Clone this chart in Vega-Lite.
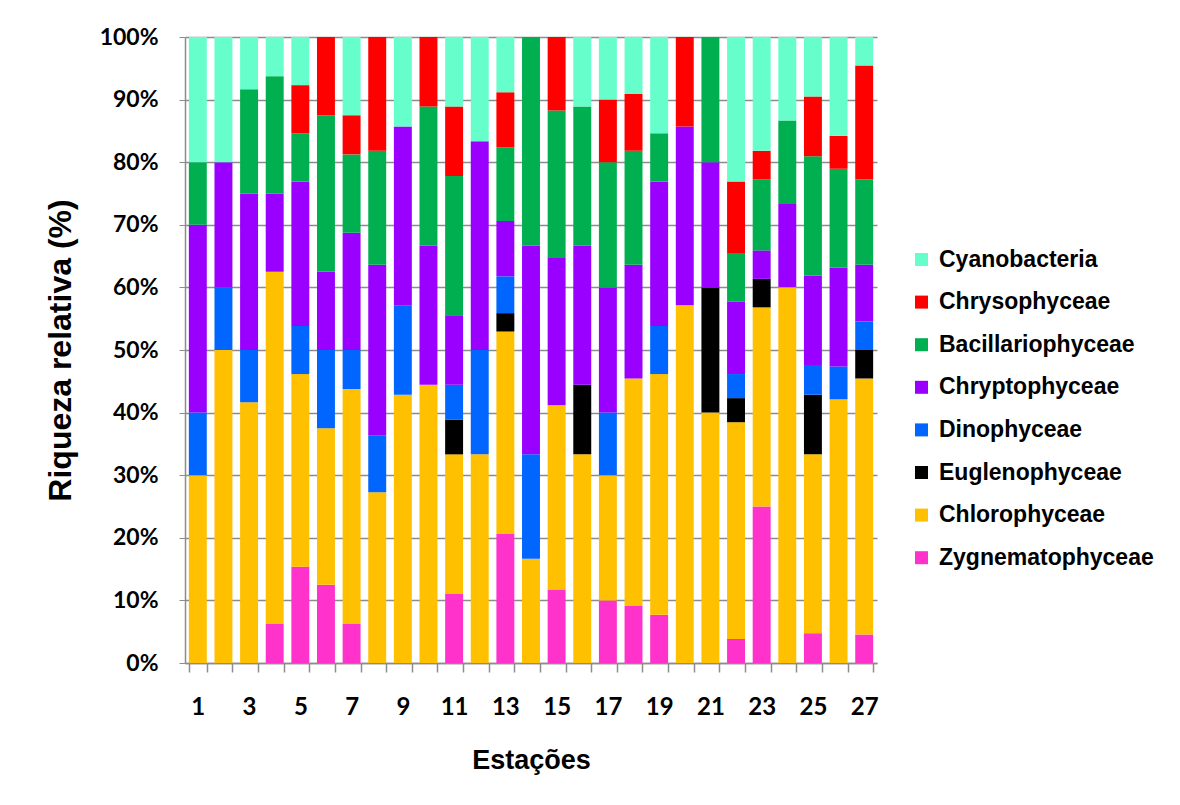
{
  "$schema": "https://vega.github.io/schema/vega-lite/v6.json",
  "width": 692,
  "height": 626,
  "autosize": {"type": "none"},
  "padding": {"left": 185, "top": 37, "right": 303, "bottom": 142},
  "background": "white",
  "config": {"view": {"stroke": null}, "font": "Liberation Sans"},
  "data": {"values": [
    {"e": 1, "Zygnematophyceae": 0, "Chlorophyceae": 30, "Euglenophyceae": 0, "Dinophyceae": 10, "Chryptophyceae": 30, "Bacillariophyceae": 10, "Chrysophyceae": 0, "Cyanobacteria": 20},
    {"e": 2, "Zygnematophyceae": 0, "Chlorophyceae": 50, "Euglenophyceae": 0, "Dinophyceae": 10, "Chryptophyceae": 20, "Bacillariophyceae": 0, "Chrysophyceae": 0, "Cyanobacteria": 20},
    {"e": 3, "Zygnematophyceae": 0, "Chlorophyceae": 41.67, "Euglenophyceae": 0, "Dinophyceae": 8.33, "Chryptophyceae": 25, "Bacillariophyceae": 16.67, "Chrysophyceae": 0, "Cyanobacteria": 8.33},
    {"e": 4, "Zygnematophyceae": 6.25, "Chlorophyceae": 56.25, "Euglenophyceae": 0, "Dinophyceae": 0, "Chryptophyceae": 12.5, "Bacillariophyceae": 18.75, "Chrysophyceae": 0, "Cyanobacteria": 6.25},
    {"e": 5, "Zygnematophyceae": 15.38, "Chlorophyceae": 30.77, "Euglenophyceae": 0, "Dinophyceae": 7.69, "Chryptophyceae": 23.08, "Bacillariophyceae": 7.69, "Chrysophyceae": 7.69, "Cyanobacteria": 7.69},
    {"e": 6, "Zygnematophyceae": 12.5, "Chlorophyceae": 25, "Euglenophyceae": 0, "Dinophyceae": 12.5, "Chryptophyceae": 12.5, "Bacillariophyceae": 25, "Chrysophyceae": 12.5, "Cyanobacteria": 0},
    {"e": 7, "Zygnematophyceae": 6.25, "Chlorophyceae": 37.5, "Euglenophyceae": 0, "Dinophyceae": 6.25, "Chryptophyceae": 18.75, "Bacillariophyceae": 12.5, "Chrysophyceae": 6.25, "Cyanobacteria": 12.5},
    {"e": 8, "Zygnematophyceae": 0, "Chlorophyceae": 27.27, "Euglenophyceae": 0, "Dinophyceae": 9.09, "Chryptophyceae": 27.27, "Bacillariophyceae": 18.18, "Chrysophyceae": 18.18, "Cyanobacteria": 0},
    {"e": 9, "Zygnematophyceae": 0, "Chlorophyceae": 42.86, "Euglenophyceae": 0, "Dinophyceae": 14.29, "Chryptophyceae": 28.57, "Bacillariophyceae": 0, "Chrysophyceae": 0, "Cyanobacteria": 14.29},
    {"e": 10, "Zygnematophyceae": 0, "Chlorophyceae": 44.44, "Euglenophyceae": 0, "Dinophyceae": 0, "Chryptophyceae": 22.22, "Bacillariophyceae": 22.22, "Chrysophyceae": 11.11, "Cyanobacteria": 0},
    {"e": 11, "Zygnematophyceae": 11.11, "Chlorophyceae": 22.22, "Euglenophyceae": 5.56, "Dinophyceae": 5.56, "Chryptophyceae": 11.11, "Bacillariophyceae": 22.22, "Chrysophyceae": 11.11, "Cyanobacteria": 11.11},
    {"e": 12, "Zygnematophyceae": 0, "Chlorophyceae": 33.33, "Euglenophyceae": 0, "Dinophyceae": 16.67, "Chryptophyceae": 33.33, "Bacillariophyceae": 0, "Chrysophyceae": 0, "Cyanobacteria": 16.67},
    {"e": 13, "Zygnematophyceae": 20.59, "Chlorophyceae": 32.35, "Euglenophyceae": 2.94, "Dinophyceae": 5.88, "Chryptophyceae": 8.82, "Bacillariophyceae": 11.76, "Chrysophyceae": 8.82, "Cyanobacteria": 8.82},
    {"e": 14, "Zygnematophyceae": 0, "Chlorophyceae": 16.67, "Euglenophyceae": 0, "Dinophyceae": 16.67, "Chryptophyceae": 33.33, "Bacillariophyceae": 33.33, "Chrysophyceae": 0, "Cyanobacteria": 0},
    {"e": 15, "Zygnematophyceae": 11.76, "Chlorophyceae": 29.41, "Euglenophyceae": 0, "Dinophyceae": 0, "Chryptophyceae": 23.53, "Bacillariophyceae": 23.53, "Chrysophyceae": 11.76, "Cyanobacteria": 0},
    {"e": 16, "Zygnematophyceae": 0, "Chlorophyceae": 33.33, "Euglenophyceae": 11.11, "Dinophyceae": 0, "Chryptophyceae": 22.22, "Bacillariophyceae": 22.22, "Chrysophyceae": 0, "Cyanobacteria": 11.11},
    {"e": 17, "Zygnematophyceae": 10, "Chlorophyceae": 20, "Euglenophyceae": 0, "Dinophyceae": 10, "Chryptophyceae": 20, "Bacillariophyceae": 20, "Chrysophyceae": 10, "Cyanobacteria": 10},
    {"e": 18, "Zygnematophyceae": 9.09, "Chlorophyceae": 36.36, "Euglenophyceae": 0, "Dinophyceae": 0, "Chryptophyceae": 18.18, "Bacillariophyceae": 18.18, "Chrysophyceae": 9.09, "Cyanobacteria": 9.09},
    {"e": 19, "Zygnematophyceae": 7.69, "Chlorophyceae": 38.46, "Euglenophyceae": 0, "Dinophyceae": 7.69, "Chryptophyceae": 23.08, "Bacillariophyceae": 7.69, "Chrysophyceae": 0, "Cyanobacteria": 15.38},
    {"e": 20, "Zygnematophyceae": 0, "Chlorophyceae": 57.14, "Euglenophyceae": 0, "Dinophyceae": 0, "Chryptophyceae": 28.57, "Bacillariophyceae": 0, "Chrysophyceae": 14.29, "Cyanobacteria": 0},
    {"e": 21, "Zygnematophyceae": 0, "Chlorophyceae": 40, "Euglenophyceae": 20, "Dinophyceae": 0, "Chryptophyceae": 20, "Bacillariophyceae": 20, "Chrysophyceae": 0, "Cyanobacteria": 0},
    {"e": 22, "Zygnematophyceae": 3.85, "Chlorophyceae": 34.62, "Euglenophyceae": 3.85, "Dinophyceae": 3.85, "Chryptophyceae": 11.54, "Bacillariophyceae": 7.69, "Chrysophyceae": 11.54, "Cyanobacteria": 23.08},
    {"e": 23, "Zygnematophyceae": 25, "Chlorophyceae": 31.82, "Euglenophyceae": 4.55, "Dinophyceae": 0, "Chryptophyceae": 4.55, "Bacillariophyceae": 11.36, "Chrysophyceae": 4.55, "Cyanobacteria": 18.18},
    {"e": 24, "Zygnematophyceae": 0, "Chlorophyceae": 60, "Euglenophyceae": 0, "Dinophyceae": 0, "Chryptophyceae": 13.33, "Bacillariophyceae": 13.33, "Chrysophyceae": 0, "Cyanobacteria": 13.33},
    {"e": 25, "Zygnematophyceae": 4.76, "Chlorophyceae": 28.57, "Euglenophyceae": 9.52, "Dinophyceae": 4.76, "Chryptophyceae": 14.29, "Bacillariophyceae": 19.05, "Chrysophyceae": 9.52, "Cyanobacteria": 9.52},
    {"e": 26, "Zygnematophyceae": 0, "Chlorophyceae": 42.11, "Euglenophyceae": 0, "Dinophyceae": 5.26, "Chryptophyceae": 15.79, "Bacillariophyceae": 15.79, "Chrysophyceae": 5.26, "Cyanobacteria": 15.79},
    {"e": 27, "Zygnematophyceae": 4.55, "Chlorophyceae": 40.91, "Euglenophyceae": 4.55, "Dinophyceae": 4.55, "Chryptophyceae": 9.09, "Bacillariophyceae": 13.64, "Chrysophyceae": 18.18, "Cyanobacteria": 4.55}
  ]},
  "transform": [
    {"fold": ["Zygnematophyceae", "Chlorophyceae", "Euglenophyceae", "Dinophyceae", "Chryptophyceae", "Bacillariophyceae", "Chrysophyceae", "Cyanobacteria"], "as": ["Classe", "v"]},
    {"calculate": "indexof(['Zygnematophyceae', 'Chlorophyceae', 'Euglenophyceae', 'Dinophyceae', 'Chryptophyceae', 'Bacillariophyceae', 'Chrysophyceae', 'Cyanobacteria'], datum.Classe)", "as": "ord"}
  ],
  "mark": {"type": "bar"},
  "encoding": {
    "x": {
      "field": "e", "type": "ordinal",
      "scale": {"paddingInner": 0.3, "paddingOuter": 0.15},
      "axis": {
        "title": "Estações",
        "labelExpr": "datum.value % 2 == 1 ? datum.label : ''",
        "labelAngle": 0,
        "tickBand": "extent",
        "tickSize": 9,
        "tickColor": "#8c8c8c",
        "tickWidth": 1.5,
        "domainColor": "#8c8c8c",
        "domainWidth": 1.5,
        "labelFont": "Lato",
        "labelFontSize": 24,
        "labelFontWeight": "bold",
        "labelColor": "black",
        "labelPadding": 23,
        "titleFont": "Liberation Sans",
        "titleFontSize": 27,
        "titleFontWeight": "bold",
        "titleColor": "black",
        "titlePadding": 28,
        "grid": false
      }
    },
    "y": {
      "field": "v", "type": "quantitative", "stack": "normalize",
      "scale": {"domain": [0, 1]},
      "axis": {
        "title": "Riqueza relativa (%)",
        "format": ".0%",
        "values": [0, 0.1, 0.2, 0.3, 0.4, 0.5, 0.6, 0.7, 0.8, 0.9, 1],
        "grid": true,
        "gridColor": "#8c8c8c",
        "gridWidth": 1.5,
        "domainColor": "#8c8c8c",
        "domainWidth": 1.5,
        "tickColor": "#8c8c8c",
        "tickSize": 6,
        "labelFont": "Lato",
        "labelFontSize": 23,
        "labelFontWeight": "bold",
        "labelColor": "black",
        "labelPadding": 21,
        "titleFont": "Liberation Sans",
        "titleFontSize": 32,
        "titleFontWeight": "bold",
        "titleColor": "black",
        "titlePadding": 22
      }
    },
    "color": {
      "field": "Classe", "type": "nominal",
      "scale": {
        "domain": ["Cyanobacteria", "Chrysophyceae", "Bacillariophyceae", "Chryptophyceae", "Dinophyceae", "Euglenophyceae", "Chlorophyceae", "Zygnematophyceae"],
        "range": ["#66FFCC", "#FF0000", "#00B050", "#9900FF", "#0066FF", "#000000", "#FFC000", "#FF33CC"]
      },
      "legend": {
        "orient": "none",
        "legendX": 725,
        "legendY": 211,
        "title": null,
        "padding": 0,
        "labelFont": "Liberation Sans",
        "labelFontSize": 23,
        "labelFontWeight": "bold",
        "labelColor": "black",
        "labelLimit": 0,
        "labelOffset": 6,
        "symbolType": "square",
        "symbolSize": 169,
        "symbolStrokeWidth": 0,
        "symbolOpacity": 1,
        "rowPadding": 18.6
      }
    },
    "order": {"field": "ord", "type": "quantitative"}
  }
}
